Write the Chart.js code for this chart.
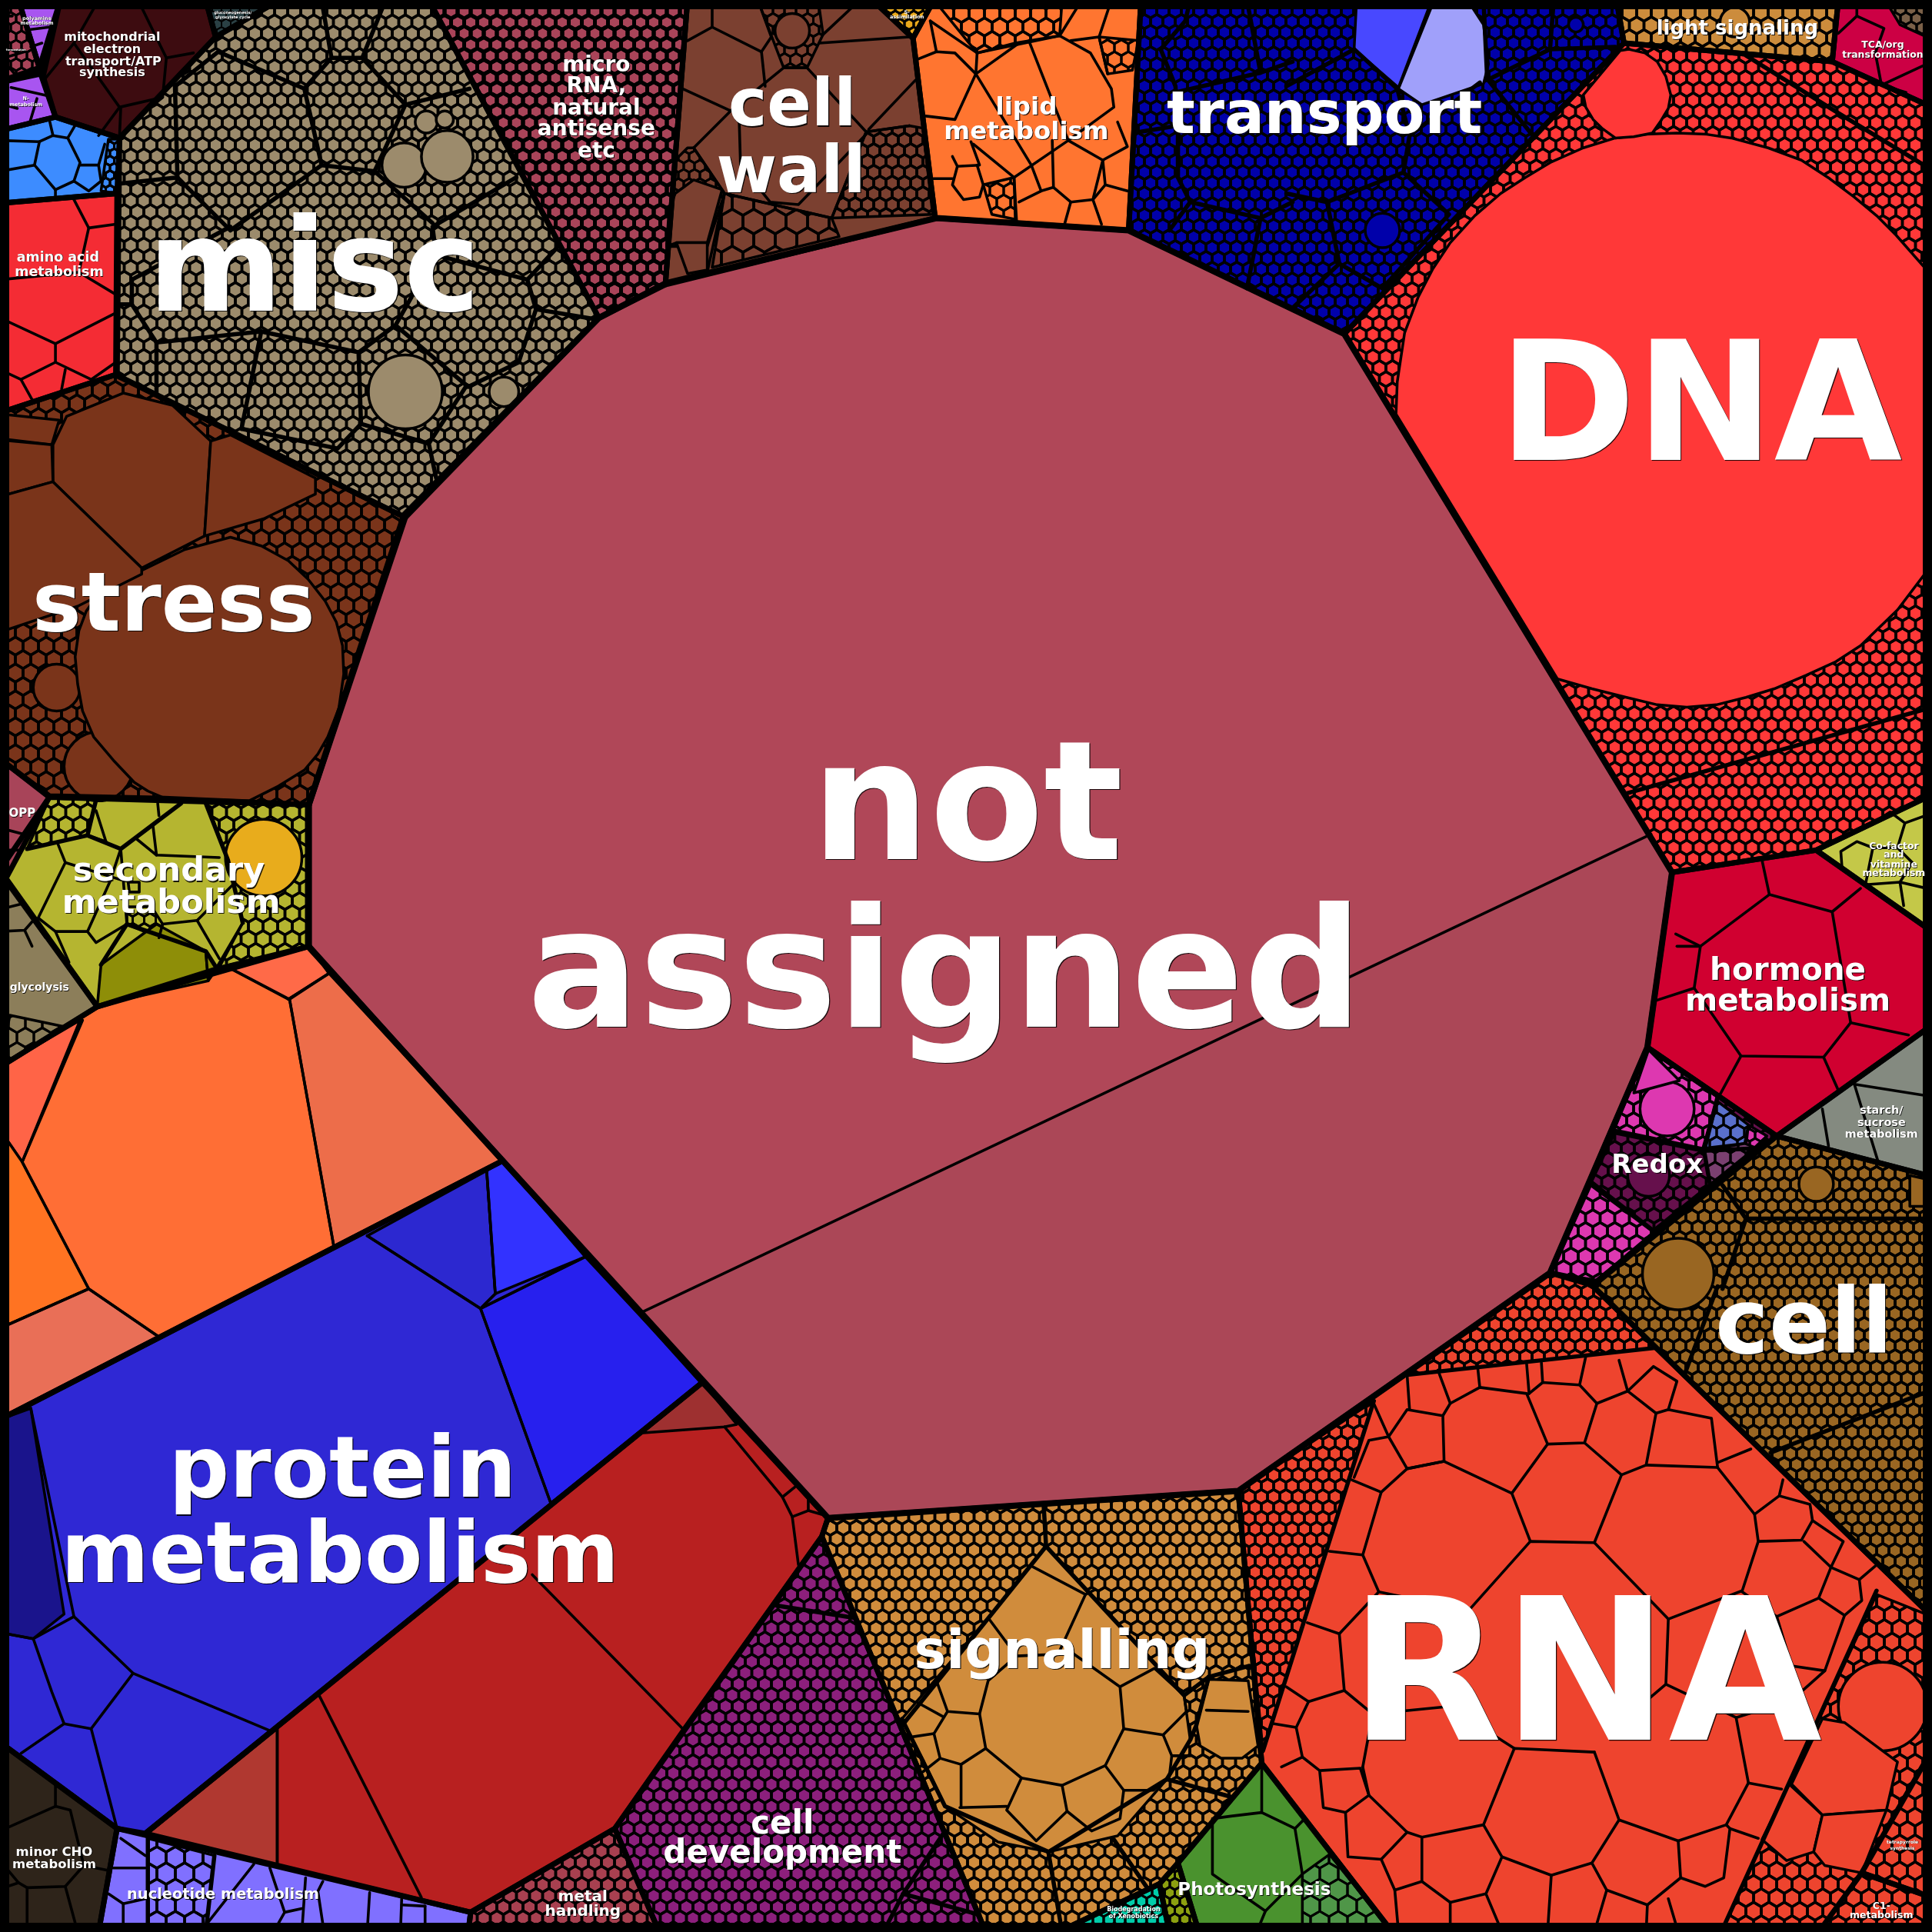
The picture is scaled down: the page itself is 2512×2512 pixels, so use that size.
<!DOCTYPE html>
<html><head><meta charset="utf-8">
<style>html,body{margin:0;padding:0;background:#000}canvas{display:block}</style>
<script src="https://cdn.jsdelivr.net/npm/chart.js@4"></script>
</head><body><canvas id="c" width="2512" height="2512"></canvas>
<script>
// ---- top level regions (outline vertices in chart units) ----
const notAssignedUpper=[[760,177],[916,187],[1091,271],[1340,677],[521,1065],[408,942],[250,768],[250,655],[328,418],[486,258],[540,230]];
const notAssignedLower=[[1340,677],[1357,708],[1337,850],[1258,1033],[1005,1210],[672,1232],[570,1122],[521,1065]];
const dnaOutline=[[1091,271],[1318,35],[1487,50],[1568,87],[1568,645],[1474,690],[1357,708]];
const transportOutline=[[916,187],[926,0],[1312,0],[1318,35],[1091,271]];
const miscOutline=[[97,112],[175,30],[227,0],[348,0],[486,258],[329,420],[95,305]];
const microOutline=[[348,0],[558,0],[540,231],[486,258]];
const cellWallOutline=[[558,0],[708,0],[741,31],[759,177],[540,231]];
const lipidOutline=[[741,31],[758,0],[926,0],[916,187],[759,177]];
const lightOutline=[[1312,0],[1492,0],[1487,50],[1318,35]];
const tcaOutline=[[1492,0],[1568,0],[1568,87],[1487,50]];
const aminoOutline=[[0,165],[95,157],[94,304],[0,335]];
const nitroBlueOutline=[[0,106],[45,95],[97,112],[95,157],[0,165]];
const mitoOutline=[[49,0],[167,0],[175,30],[97,112],[45,95],[35,62]];
const polyamineOutline=[[15,0],[49,0],[32,55]];
const smallRoseOutline=[[0,0],[15,0],[32,55],[0,66]];
const nMetabOutline=[[0,67],[33,60],[45,95],[0,106]];
const glucoOutline=[[167,0],[227,0],[175,30]];
const sulfurOutline=[[708,0],[758,0],[741,31]];
const stressOutline=[[0,335],[94,304],[329,420],[251,653],[134,648],[40,646],[0,616]];
const secondaryOutline=[[40,647],[251,653],[251,768],[174,787],[79,817],[0,706]];
const oppOutline=[[0,616],[40,647],[0,722]];
const glycolysisOutline=[[0,708],[79,817],[0,866]];
const orangeOutline=[[79,817],[251,768],[408,942],[0,1152],[0,866]];
const blueOutline=[[0,1152],[408,942],[570,1122],[118,1488],[95,1484],[0,1414]];
const redOutline=[[570,1122],[672,1232],[667,1247],[555,1404],[499,1484],[382,1552],[118,1488]];
const nucleotideOutline=[[95,1484],[382,1552],[380,1568],[80,1568]];
const minorChoOutline=[[0,1414],[95,1484],[80,1568],[0,1568]];
const metalOutline=[[382,1552],[499,1484],[535,1568],[380,1568]];
const cellDevOutline=[[667,1247],[800,1568],[535,1568],[499,1484]];
const signallingOutline=[[672,1232],[1005,1210],[1024,1431],[956,1512],[941,1529],[859,1568],[800,1568],[667,1247]];
const biodegOutline=[[941,1529],[949,1568],[859,1568]];
const oliveOutline=[[941,1529],[956,1512],[973,1568],[949,1568]];
const photoOutline=[[1024,1431],[1130,1568],[973,1568],[956,1512]];
const rnaOutline=[[1005,1210],[1258,1033],[1292,1043],[1568,1312],[1568,1568],[1130,1568],[1024,1431]];
const cellOutline=[[1292,1043],[1442,922],[1568,955],[1568,1312]];
const redoxOutline=[[1337,850],[1442,922],[1296,1041],[1258,1033]];
const hormoneOutline=[[1357,708],[1474,690],[1568,756],[1568,832],[1442,922],[1337,850]];
const cofactorOutline=[[1474,690],[1568,645],[1568,756]];
const starchOutline=[[1442,922],[1568,832],[1568,955]];
const tetraOutline=[[1568,1420],[1511,1520],[1568,1540]];
const c1Outline=[[1511,1520],[1568,1540],[1568,1568],[1476,1568]];

// name, outline, colour, hex cell width (0 = flat), hex line width
const regionTable=[
 ['not assigned upper',notAssignedUpper,'#B04758',0,0],['not assigned lower',notAssignedLower,'#AB4757',0,0],
 ['DNA',dnaOutline,'#FF3838',17,3.5],['transport',transportOutline,'#0000AA',16,3.5],
 ['misc',miscOutline,'#9C8B6C',17,3.5],['micro RNA',microOutline,'#A94459',17,5],
 ['cell wall',cellWallOutline,'#7B4030',0,0],['lipid',lipidOutline,'#FF7530',0,0],
 ['light signaling',lightOutline,'#CC8C3C',19,3.5],['TCA',tcaOutline,'#CC0044',0,0],
 ['amino acid',aminoOutline,'#F42C34',0,0],['blue',nitroBlueOutline,'#3D8CFF',0,0],
 ['mitochondrial',mitoOutline,'#3D0C10',0,0],['polyamine',polyamineOutline,'#A855F0',0,0],
 ['rose',smallRoseOutline,'#A84459',14,3],['N',nMetabOutline,'#A855F0',0,0],
 ['gluco',glucoOutline,'#2A4044',12,2],['S',sulfurOutline,'#E8A81C',12,3],
 ['stress',stressOutline,'#7A341A',20,3.5],['secondary',secondaryOutline,'#B5B530',0,0],
 ['OPP',oppOutline,'#A84459',0,0],['glycolysis',glycolysisOutline,'#8C7E5A',0,0],
 ['orange',orangeOutline,'#FF6E35',0,0],['blue protein',blueOutline,'#2F28D4',0,0],
 ['red protein',redOutline,'#B82020',0,0],['nucleotide',nucleotideOutline,'#8070FF',0,0],
 ['minor CHO',minorChoOutline,'#2E241A',0,0],['metal',metalOutline,'#A84050',17,3.5],
 ['cell development',cellDevOutline,'#8C1F7C',17,3.5],['signalling',signallingOutline,'#D08C3C',17,3.5],
 ['biodegradation',biodegOutline,'#00CDAA',14,3],['olive',oliveOutline,'#8CA010',13,3],
 ['photosynthesis',photoOutline,'#4A922E',0,0],['RNA',rnaOutline,'#EE442E',0,0],
 ['cell',cellOutline,'#996622',16,3.5],['redox',redoxOutline,'#66104C',17,3.5],
 ['hormone',hormoneOutline,'#D00030',0,0],['cofactor',cofactorOutline,'#C4C848',0,0],
 ['starch',starchOutline,'#848A80',0,0],['tetrapyrrole',tetraOutline,'#2E4428',30,3],['C1',c1Outline,'#A84459',34,3]
];

// ---- sub areas filled with fine cells ----
const hexAreas=[
 [[[703,107],[738,102],[749,104],[757,174],[675,177]],'#7B4030',16,3.5],
 [[[588,157],[675,177],[681,192],[578,217]],'#7B4030',28,3.5],
 [[[615,0],[636,55],[655,55],[668,28],[664,0]],'#7B4030',15,3],
 [[[558,120],[563,120],[588,157],[574,200],[541,200],[548,130]],'#7B4030',14,3],
 [[[758,0],[862,0],[860,29],[793,43]],'#FF7530',20,3.5],
 [[[892,30],[924,33],[919,57],[899,60]],'#FF7530',18,3],
 [[[798,150],[823,144],[824,178],[805,174]],'#FF7530',18,3],
 [[[88,113],[97,113],[95,157],[82,155]],'#3D8CFF',11,3],
 [[[40,648],[78,649],[71,678],[22,689]],'#B5B530',19,3.5],
 [[[168,652],[251,653],[251,768],[178,785],[197,749],[185,698]],'#B5B530',19,3.5],
 [[[103,736],[123,736],[132,750],[129,761],[103,750]],'#B5B530',15,3],
 [[[8,824],[51,833],[0,866]],'#8C7E5A',22,3],
 [[[120,1492],[174,1506],[167,1568],[120,1568]],'#8070FF',24,3.5],
 [[[1258,1033],[1292,1043],[1343,1094],[1141,1116]],'#EE442E',16,3.5],
 [[[1005,1210],[1115,1137],[1025,1421]],'#EE442E',16,3.5],
 [[[1523,1294],[1568,1312],[1568,1568],[1397,1568]],'#EE442E',20,3.5],
 [[[1079,1505],[1130,1568],[1057,1568],[1057,1521]],'#4F9648',24,3],
 [[[1530,0],[1568,0],[1568,32],[1542,20]],'#7A6048',14,3],
 [[[1337,850],[1394,890],[1382,932],[1310,917]],'#DD38B0',18,3.5],
 [[[1394,894],[1419,913],[1416,928],[1383,932]],'#5A70CC',18,3],
 [[[1419,913],[1434,922],[1416,939]],'#DD38B0',14,3],
 [[[1383,934],[1416,928],[1426,932],[1388,962]],'#7A4070',20,3],
 [[[1291,962],[1342,1000],[1296,1039],[1259,1033]],'#DD38B0',19,3.5]
];

// ---- large flat cells ----
const flatCells=[
 [[[1133,336],[1134,310],[1140,270],[1151,241],[1163,218],[1177,197],[1197,175],[1218,157],[1238,144],[1258,132],[1285,120],[1311,112],[1336,109],[1361,108],[1385,109],[1405,112],[1435,120],[1462,130],[1485,145],[1505,160],[1523,175],[1539,191],[1568,224],[1568,458],[1540,495],[1510,524],[1490,537],[1466,548],[1440,559],[1417,566],[1393,572],[1369,574],[1345,572],[1320,566],[1292,559],[1264,551]],'#FF3838'],
 [[[1322,40],[1335,43],[1345,50],[1352,62],[1356,77],[1354,88],[1348,98],[1341,108],[1326,111],[1311,112],[1300,104],[1293,97],[1287,87],[1285,77],[1315,41]],'#FF3838'],
 [[[1101,0],[1162,0],[1135,71],[1099,40]],'#4848FF'],
 [[[1164,0],[1191,0],[1204,20],[1208,52],[1204,68],[1154,85],[1135,72]],'#A0A0FA'],
 [[[64,512],[70,496],[80,482],[96,472],[115,463],[150,446],[187,436],[212,443],[234,455],[250,470],[264,488],[273,505],[278,524],[279,547],[275,575],[266,598],[258,612],[247,625],[226,638],[202,650],[134,648],[120,642],[109,635],[92,617],[76,598],[67,577],[63,555],[61,533]],'#7A341A'],
 [[[43,361],[54,338],[100,319],[140,329],[171,358],[166,435],[115,461],[43,391]],'#7A341A'],
 [[[171,358],[187,353],[256,388],[256,401],[214,421],[166,435]],'#7A341A'],
 [[[0,336],[48,341],[42,361],[0,356]],'#7A341A'],
 [[[0,357],[42,361],[43,391],[0,403]],'#7A341A'],
 [[[0,403],[43,391],[115,461],[115,466],[63,492],[0,513]],'#7A341A'],
 [[[82,783],[127,750],[167,772],[169,796],[79,816]],'#8E8E08'],
 [[[167,772],[176,786],[169,796]],'#8E8E08'],
 [[[187,786],[251,768],[267,790],[234,811]],'#FF6A48'],
 [[[267,790],[408,942],[271,1012],[235,811]],'#ED6D4A'],
 [[[0,866],[65,828],[18,943],[0,917]],'#FF6447'],
 [[[0,917],[18,943],[72,1046],[0,1078]],'#FF7322'],
 [[[0,1078],[72,1046],[129,1085],[0,1152]],'#E96F57'],
 [[[0,1152],[25,1143],[52,1310],[27,1330],[0,1325]],'#1A148C'],
 [[[298,1003],[395,950],[402,1050],[390,1062]],'#2C28D0'],
 [[[395,950],[408,942],[475,1020],[402,1050]],'#3232FF'],
 [[[390,1062],[475,1020],[570,1122],[447,1220]],'#2720EE'],
 [[[120,1488],[225,1403],[225,1514]],'#B03830'],
 [[[520,1163],[570,1122],[598,1156],[588,1158]],'#9E3030'],
 [[[849,1255],[961,1376],[966,1412],[947,1444],[907,1490],[851,1503],[810,1495],[767,1466],[750,1430],[732,1395],[802,1313]],'#D08C3C'],
 [[[981,1363],[1013,1364],[1021,1417],[1008,1427],[991,1427],[974,1417],[971,1400]],'#D08C3C'],
 [[[1452,1448],[1479,1473],[1472,1503],[1450,1510],[1430,1493]],'#EE442E'],
 [[[1454,1448],[1479,1395],[1497,1398],[1540,1430],[1531,1469],[1479,1473]],'#EE442E'],
 [[[1479,1473],[1531,1469],[1511,1520],[1481,1514],[1472,1503]],'#EE442E'],
 [[[1338,852],[1363,877],[1326,887]],'#DD38B0'],
 [[[548,157],[563,146],[586,154],[574,197],[549,197],[541,200],[543,170]],'#7B4030'],
 [[[549,197],[574,197],[574,219],[558,222]],'#7B4030'],
 [[[1550,954],[1568,958],[1568,979],[1550,979]],'#996622']
];

// ---- round cells: x, y, radius, colour ----
const roundCells=[
 [329,318,30,'#9C8B6C'],[409,318,12,'#9C8B6C'],[346,99,9,'#9C8B6C'],[361,97,7,'#9C8B6C'],[328,134,18,'#9C8B6C'],[363,127,21,'#9C8B6C'],
 [1122,187,14,'#0000AA'],[1279,20,6,'#0000AA'],[643,25,14,'#7B4030'],[1408,18,12,'#CC8C3C'],
 [46,558,19,'#7A341A'],[80,622,28,'#7A341A'],[214,696,31,'#E8AC1C'],
 [1362,1034,29,'#996622'],[1474,961,14,'#996622'],[1353,900,22,'#DD38B0'],[1338,954,17,'#66104C'],[1528,1385,36,'#EE442E']
];

// ---- dividing lines between cells: thin, then medium ----
const thinLines=[
 // cell wall
 [[578,0],[578,22],[618,42],[626,30],[615,0]],[[558,33],[578,22]],[[618,42],[621,70]],[[554,72],[593,90],[563,120]],
 [[593,90],[636,55],[655,55],[703,107],[738,102]],[[600,100],[601,134],[625,164],[648,166],[703,109]],[[563,120],[588,157],[675,177]],
 [[588,157],[574,221]],[[665,35],[738,30]],[[668,28],[698,0]],[[705,105],[743,65]],[[703,107],[675,177]],
 // lipid
 [[755,17],[793,43],[824,35],[860,29],[885,43],[902,72],[904,87],[867,114],[823,144],[790,117]],[[793,43],[792,60],[775,97],[750,94]],[[792,60],[827,35]],[[792,60],[837,134]],
 [[835,33],[855,84],[867,114]],[[837,134],[845,155],[855,152],[854,114]],[[823,144],[825,179]],[[845,155],[827,164]],[[855,152],[869,164],[887,162],[895,130],[867,114]],[[869,164],[864,182]],[[887,162],[894,182]],
 [[895,130],[915,119],[907,99]],[[895,130],[897,150],[915,155]],[[897,150],[887,162]],[[745,48],[760,42],[775,43],[792,60]],[[755,17],[760,42]],[[773,127],[777,135],[795,134],[788,115]],[[777,135],[773,150],[782,162],[795,160],[798,150],[793,134]],[[757,145],[773,145]],
 [[869,33],[892,30],[902,0]],[[860,29],[878,0]],[[892,30],[899,60]],
 // amino acid
 [[59,160],[72,185],[94,182]],[[72,185],[64,221],[94,239]],[[64,221],[0,227]],[[0,258],[45,279],[94,254]],[[45,279],[45,294],[74,308],[94,294]],[[45,294],[17,308],[27,326]],[[0,300],[17,308]],[[53,300],[50,316]],
 // blue
 [[0,114],[32,115],[28,134],[0,139]],[[32,115],[43,110],[55,112],[65,132],[60,147],[45,154],[28,134]],[[65,134],[80,134],[82,147],[72,155],[60,147]],[[80,134],[85,117]],[[45,154],[45,162]],[[43,110],[40,97]],[[55,112],[62,100]],
 // mitochondrial
 [[80,0],[60,35],[35,66]],[[60,35],[97,87],[132,79],[135,47],[112,0]],[[135,47],[157,43]],[[97,87],[80,110]],[[98,88],[97,110]],[[132,79],[110,97]],
 // N / polyamine
 [[24,24],[40,22]],[[25,38],[34,35]],[[10,13],[0,13]],[[7,25],[0,24]],[[20,42],[0,48]],[[9,71],[40,78]],[[0,84],[14,88]],[[30,80],[24,100]],[[3,50],[12,60]],
 // secondary
 [[78,658],[86,683]],[[47,685],[53,700],[31,745],[45,756],[71,756],[89,716],[98,689]],[[53,700],[98,714]],[[98,689],[103,750]],[[45,756],[56,781]],[[71,756],[78,765],[103,750]],
 [[124,669],[127,694],[178,696]],[[111,681],[127,694]],[[124,669],[147,652]],[[129,662],[128,652]],[[160,747],[132,750],[129,761]],[[160,747],[178,778]],[[160,747],[189,718]],[[197,749],[176,785]],[[104,716],[113,716],[113,724],[105,724],[104,716]],[[86,683],[71,678]],
 // OPP, glycolysis
 [[0,672],[23,678]],[[0,690],[17,690]],[[0,738],[20,733]],[[0,756],[20,755],[27,747],[37,761]],[[20,755],[26,768]],
 // orange
 [[235,811],[187,786]],[[235,811],[271,1012]],[[67,828],[18,943],[72,1046],[129,1085]],[[0,1078],[72,1046]],[[234,811],[267,790]],
 // protein blue
 [[25,1143],[60,1312],[108,1358],[220,1405]],[[298,1003],[390,1062],[447,1220]],[[390,1062],[475,1020]],[[395,950],[402,1050],[390,1062]],[[60,1312],[27,1330],[42,1373],[52,1399],[17,1423]],[[108,1358],[74,1403],[95,1484]],[[52,1399],[74,1403]],[[27,1330],[0,1325]],
 // protein red
 [[588,1158],[635,1215],[643,1231],[648,1270]],[[635,1215],[645,1207]],[[643,1231],[656,1226],[670,1230]],[[656,1226],[656,1215]],[[225,1403],[225,1514]],[[259,1376],[342,1540]],[[432,1278],[555,1404]],
 // nucleotide
 [[98,1492],[118,1506]],[[92,1516],[118,1516]],[[88,1537],[100,1545],[118,1541]],[[100,1545],[100,1568]],[[206,1513],[169,1560]],[[219,1516],[231,1552],[245,1549]],[[231,1552],[222,1568]],[[248,1524],[245,1568]],[[262,1527],[258,1535],[263,1568]],[[300,1536],[298,1568]],[[326,1541],[325,1568]],[[345,1547],[345,1568]],[[326,1546],[345,1547]],
 // minor CHO
 [[45,1449],[45,1466],[0,1486]],[[45,1466],[57,1469],[68,1514],[53,1531],[22,1532],[15,1528],[0,1510]],[[53,1531],[63,1568]],[[22,1532],[22,1568]],[[68,1514],[88,1518]],[[15,1528],[0,1533]],
 // signalling cells
 [[837,1271],[881,1294],[859,1342]],[[881,1294],[889,1290]],[[802,1313],[825,1344],[802,1364],[795,1391]],[[760,1364],[769,1389],[795,1391],[800,1419],[829,1443],[862,1449],[897,1433],[912,1403],[909,1369],[871,1342],[825,1344]],
 [[909,1369],[937,1354],[961,1376]],[[912,1403],[944,1408],[963,1389],[961,1376]],[[944,1408],[951,1425],[966,1425]],[[951,1425],[949,1442],[936,1453],[912,1453],[897,1433]],[[912,1453],[909,1476],[886,1486],[866,1470],[862,1449]],[[866,1470],[841,1494],[817,1469],[829,1443]],[[817,1466],[779,1467]],[[780,1467],[780,1432],[800,1419]],[[780,1432],[763,1427],[758,1407],[769,1389]],[[758,1407],[738,1410]],[[763,1427],[749,1438]],[[745,1382],[765,1393]],[[979,1388],[1013,1389]],
 // RNA cells
 [[1114,1137],[1127,1166],[1142,1144],[1171,1149],[1172,1186],[1142,1192],[1127,1166]],[[1142,1116],[1144,1144]],[[1167,1112],[1177,1139],[1171,1149]],[[1177,1139],[1201,1126],[1239,1131],[1256,1172],[1227,1212],[1172,1186]],[[1199,1107],[1201,1126]],[[1239,1107],[1241,1131]],
 [[1241,1131],[1252,1122],[1282,1124],[1296,1139],[1286,1171],[1256,1172]],[[1252,1122],[1251,1106]],[[1282,1124],[1287,1101]],[[1296,1139],[1321,1129],[1344,1147],[1336,1189],[1316,1197],[1286,1171]],[[1321,1129],[1314,1104]],[[1321,1129],[1342,1109],[1361,1121],[1354,1144],[1344,1147]],
 [[1354,1144],[1389,1151],[1394,1191],[1336,1189]],[[1394,1191],[1424,1229],[1427,1251],[1414,1291],[1354,1314],[1294,1252],[1316,1197]],[[1394,1187],[1421,1176]],[[1424,1229],[1444,1214],[1447,1201]],[[1444,1214],[1469,1221],[1471,1234],[1462,1250],[1427,1251]],[[1471,1234],[1496,1251],[1486,1272],[1464,1251]],
 [[1486,1272],[1509,1282],[1522,1271]],[[1486,1272],[1476,1297],[1442,1312],[1414,1292]],[[1476,1297],[1497,1311],[1511,1299],[1509,1282]],[[1497,1311],[1481,1356],[1454,1352],[1442,1312]],[[1354,1314],[1352,1367],[1332,1384]],[[1352,1367],[1409,1394],[1419,1447],[1401,1481],[1362,1494],[1314,1477],[1294,1422]],[[1409,1394],[1454,1380],[1481,1356]],
 [[1294,1252],[1242,1251],[1192,1307]],[[1242,1251],[1227,1212]],[[1172,1186],[1142,1192],[1121,1211],[1106,1262],[1119,1292]],[[1121,1211],[1097,1201]],[[1106,1262],[1079,1259]],[[1127,1166],[1111,1169],[1099,1199]],[[1087,1326],[1061,1317]],[[1087,1326],[1091,1372],[1062,1381],[1044,1369]],[[1062,1381],[1052,1402],[1034,1399]],
 [[1052,1402],[1057,1426],[1071,1437],[1104,1435],[1111,1457],[1092,1471],[1074,1467],[1071,1437]],[[1091,1372],[1114,1391],[1106,1434]],[[1106,1434],[1111,1457],[1142,1487],[1121,1509],[1094,1507],[1092,1471]],[[1142,1487],[1154,1491],[1204,1481],[1229,1419],[1294,1422]],[[1204,1481],[1219,1507],[1259,1522],[1292,1512],[1314,1477]],
 [[1154,1491],[1154,1527],[1177,1544],[1206,1537],[1219,1507]],[[1259,1522],[1256,1568]],[[1292,1512],[1304,1534],[1294,1568]],[[1304,1534],[1337,1546],[1364,1524],[1362,1494]],[[1337,1546],[1336,1568]],[[1354,1541],[1362,1568]],[[1206,1537],[1219,1568]],[[1177,1544],[1177,1568]],[[1154,1527],[1132,1534],[1121,1509]],[[1132,1534],[1135,1568]],
 [[1364,1524],[1384,1531],[1399,1524],[1404,1484],[1401,1481]],[[1404,1484],[1427,1492]],[[1419,1447],[1446,1452]],[[1192,1307],[1119,1292],[1087,1326]],[[1114,1391],[1176,1385],[1229,1419]],[[1057,1426],[1040,1434]],
 // hormone, cofactor, starch
 [[1430,698],[1436,726],[1487,740],[1510,721]],[[1436,726],[1380,768],[1360,758]],[[1380,768],[1375,802],[1344,812]],[[1375,802],[1413,857],[1480,858],[1502,830],[1487,740]],[[1502,830],[1549,840]],[[1413,857],[1395,890]],[[1480,858],[1492,885]],[[1361,768],[1380,768]],
 [[1494,691],[1507,683],[1520,688],[1514,718],[1495,705],[1494,691]],[[1520,668],[1534,659],[1546,668],[1540,688],[1520,688]],[[1514,718],[1542,716],[1545,735]],[[1542,716],[1568,722]],[[1546,668],[1568,660]],[[1540,688],[1552,700],[1542,716]],
 [[1505,880],[1568,890]],[[1505,880],[1524,942]],[[1479,900],[1484,930]],
 // TCA, photosynthesis
 [[1492,27],[1507,13],[1529,23],[1522,43],[1527,69],[1547,75]],[[1507,13],[1507,0]],[[1527,69],[1568,50]],
 [[1024,1471],[999,1474],[984,1476],[984,1521],[1027,1551]],[[1024,1431],[1024,1471],[1051,1484],[1059,1476]],[[1051,1484],[1057,1521],[1027,1551],[1020,1568]]
];
const mediumLines=[
 // transport
 [[1099,40],[1044,70]],[[1099,40],[1134,72],[1144,110],[1139,140],[1077,164],[1044,157]],[[1139,140],[1176,174],[1122,234]],[[1077,164],[1087,214],[1122,234]],[[1087,214],[1050,249]],[[1144,110],[1201,67]],[[1207,64],[1244,110]],[[1204,0],[1207,64]],[[1209,64],[1258,40],[1311,38]],[[1258,40],[1261,0]],[[925,107],[956,102],[956,144],[966,164],[1023,177],[1016,214],[1012,234]],[[966,164],[949,187]],[[942,40],[954,70],[956,102]],[[942,40],[962,17],[966,0]],[[1012,0],[1023,59],[954,75]],[[1023,59],[1049,50]],[[1023,177],[1049,164]],
 // DNA
 [[1417,45],[1489,90],[1568,138]],[[1320,644],[1568,574]],
 // misc
 [[142,70],[177,42],[247,72],[269,47],[261,0]],[[269,47],[294,47],[313,0]],[[294,47],[329,85],[381,72]],[[142,70],[144,144],[97,149]],[[144,144],[187,187],[261,134]],[[247,72],[261,134],[304,139],[329,85]],[[304,139],[351,181]],[[419,144],[351,184],[354,207],[428,227],[452,201]],[[428,227],[435,251],[421,294],[380,314],[321,264],[334,241]],[[435,251],[483,259]],[[212,269],[127,278],[107,247],[107,227],[187,184]],[[212,269],[291,286],[293,344]],[[212,269],[196,348]],[[127,278],[127,320]],[[196,348],[274,364],[293,344]],[[293,344],[348,360],[378,314]],[[348,360],[354,388]],[[291,286],[321,264]],[[97,247],[107,247]],
 // secondary
 [[22,689],[71,678],[98,689],[147,652]],[[71,678],[78,649]],[[82,783],[103,750],[167,772],[176,786]],[[167,652],[185,698],[197,749]],
 // nucleotide
 [[120,1489],[120,1568]],[[174,1506],[167,1568]],
 // signalling
 [[847,1221],[849,1255]],[[851,1504],[862,1568]],[[904,1493],[931,1532]],[[981,1361],[1014,1352]],[[947,1444],[998,1458]],[[734,1398],[849,1255],[961,1376],[981,1361]],[[732,1395],[767,1466],[851,1503],[947,1444],[966,1412],[971,1400],[981,1361]],
 // cell development
 [[630,1303],[693,1313]],[[767,1486],[733,1537],[717,1568]],[[733,1537],[795,1554]],
 // RNA
 [[1141,1116],[1343,1094]],[[1115,1137],[1025,1421]],[[1523,1291],[1397,1568]],
 // cell
 [[1367,1116],[1394,1044]],[[1437,1179],[1568,1128]],[[1417,989],[1568,989]],[[1398,962],[1417,989],[1398,1046]],
 // redox
 [[1310,919],[1383,934],[1426,932]],[[1394,890],[1383,934],[1388,962],[1342,999],[1291,959]],[[1310,919],[1291,959]],[[1388,962],[1434,925]]
];

// ---- labels: text, centre x, baseline y, font px ----
const labelRows=[
 ['not',785,697,216],['assigned',767,833,216],['DNA',1380,373,215],['RNA',1287,1412,258],['misc',255,252,168],['stress',141,512,107],['transport',1075,108,77],
 ['cell',643,102,85],['wall',642,156,85],['cell',1464,1098,118],['protein',278,1215,110],['metabolism',276,1284,110],['signalling',862,1354,70],
 ['cell',635,1488,42],['development',635,1512,42],['secondary',137,715,43],['metabolism',139,741,43],['hormone',1451,795,40.5],['metabolism',1451,820,40.5],
 ['lipid',833,93,32.5],['metabolism',833,113,32.5],['micro',484,58,28],['RNA,',484,75,28],['natural',484,93,28],['antisense',484,110,28],['etc',484,128,28],
 ['mitochondrial',91,33,16],['electron',91,43,16],['transport/ATP',92,53,16],['synthesis',91,62,16],['amino acid',47,212,17.5],['metabolism',48,224,17.5],
 ['light signaling',1410,28,26],['Redox',1345,952,34],['Photosynthesis',1018,1538,23],['nucleotide metabolism',181,1541,19.4],['minor CHO',44,1506,16.5],['metabolism',44,1516,16.5],
 ['metal',473,1543,20],['handling',473,1555,20],['glycolysis',32,804,14],['OPP',18,663,15],['starch/',1527,904,14.4],['sucrose',1527,914,14.4],['metabolism',1527,923,14.4],
 ['Co-factor',1537,689,12.4],['and',1537,696,12.4],['vitamine',1537,704,12.4],['metabolism',1537,711,12.4],['TCA/org',1528,39,12.4],['transformation',1528,47,12.4],
 ['N-',21,81,6.5],['metabolism',21,86,6.5],['polyamine',30,16,6.5],['metabolism',30,20,6.5],['fermentation',13,41,3.5],['gluconeogenesis/',189,11,5],['glyoxylate cycle',189,15,5],['S-',736,11,6.5],['assimilation',736,15,6.5],
 ['Biodegradation',920,1551,8],['of Xenobiotics',920,1557,8],['tetrapyrrole',1544,1496,6],['synthesis',1544,1501,6],['C1-',1527,1549,12.5],['metabolism',1527,1557,12.5]
];

function hexPattern(color,w,lw){
 const s=w/Math.sqrt(3), h=Math.round(3*s), W=Math.round(w);
 const cv=document.createElement('canvas');cv.width=W;cv.height=h;
 const g=cv.getContext('2d');g.fillStyle=color;g.fillRect(0,0,W,h);
 g.strokeStyle='#000';g.lineWidth=lw;g.lineJoin='round';
 const sy=h/3,hw=W/2;
 for(let r=-1;r<=2;r++){for(let c=-1;c<=2;c++){
  const cx=c*W+(r%2?hw:0), yy=r*1.5*sy;
  g.beginPath();
  g.moveTo(cx,yy-sy);g.lineTo(cx+hw,yy-sy/2);g.lineTo(cx+hw,yy+sy/2);g.lineTo(cx,yy+sy);g.lineTo(cx-hw,yy+sy/2);g.lineTo(cx-hw,yy-sy/2);g.closePath();g.stroke();
 }}
 return g.createPattern(cv,'repeat');
}
const toPts=a=>a.map(p=>({x:p[0],y:p[1]}));
const closed=a=>toPts(a.concat([a[0]]));
function shape(a,fillStyle,lineW){
 return {type:'scatter',data:closed(a),showLine:true,tension:0,pointRadius:0,fill:fillStyle?'shape':false,backgroundColor:fillStyle||'transparent',borderColor:'#000',borderWidth:lineW,borderJoinStyle:'round',borderCapStyle:'round'};
}
function line(a,lineW){
 return {type:'scatter',data:toPts(a),showLine:true,tension:0,pointRadius:0,fill:false,borderColor:'#000',borderWidth:lineW,borderJoinStyle:'round',borderCapStyle:'round'};
}
const datasets=[];
regionTable.forEach(r=>datasets.push(shape(r[1],r[3]?hexPattern(r[2],r[3],r[4]):r[2],0)));
hexAreas.forEach(r=>datasets.push(shape(r[0],hexPattern(r[1],r[2],r[3]),3.5)));
roundCells.forEach(c=>datasets.push({type:'bubble',data:[{x:c[0],y:c[1],r:c[2]*1.602}],backgroundColor:c[3],borderColor:'#000',borderWidth:3.5}));
flatCells.forEach(r=>datasets.push(shape(r[0],r[1],3.5)));
thinLines.forEach(a=>datasets.push(line(a,3.6)));
mediumLines.forEach(a=>datasets.push(line(a,5.5)));
regionTable.forEach(r=>{ if(r[0]!=='not assigned upper'&&r[0]!=='not assigned lower') datasets.push(shape(r[1],null,7)); });
datasets.push(line([[521,1065],[1340,677]],3.5));
datasets.push(shape(notAssignedUpper.slice(0,3).concat(notAssignedLower.slice(1,6),notAssignedUpper.slice(5)),null,8));
datasets.push(shape([[0,0],[1568,0],[1568,1568],[0,1568]],null,24));
datasets.forEach((d,i)=>{d.order=-i;});

const labelPlugin={id:'labels',afterDatasetsDraw(chart){
 const ctx=chart.ctx,xs=chart.scales.x,ys=chart.scales.y;
 ctx.save();ctx.textAlign='center';ctx.textBaseline='alphabetic';
 labelRows.forEach(l=>{
  ctx.font='bold '+l[3]+'px "DejaVu Sans"';
  const off=Math.max(0.8,Math.min(1.2,l[3]/30));
  ctx.shadowColor='rgba(0,0,0,0.85)';ctx.shadowBlur=0;ctx.shadowOffsetX=off;ctx.shadowOffsetY=off;
  ctx.fillStyle='#fff';
  ctx.fillText(l[0],xs.getPixelForValue(l[1]),ys.getPixelForValue(l[2]));
 });
 ctx.restore();
}};
new Chart(document.getElementById('c'),{type:'scatter',data:{datasets},plugins:[labelPlugin],options:{
 responsive:false,animation:false,events:[],devicePixelRatio:1,
 layout:{padding:0,autoPadding:false},
 plugins:{legend:{display:false},tooltip:{enabled:false},title:{display:false}},
 scales:{x:{type:'linear',min:0,max:1568,display:false},y:{type:'linear',min:0,max:1568,reverse:true,display:false}}
}});
</script></body></html>
